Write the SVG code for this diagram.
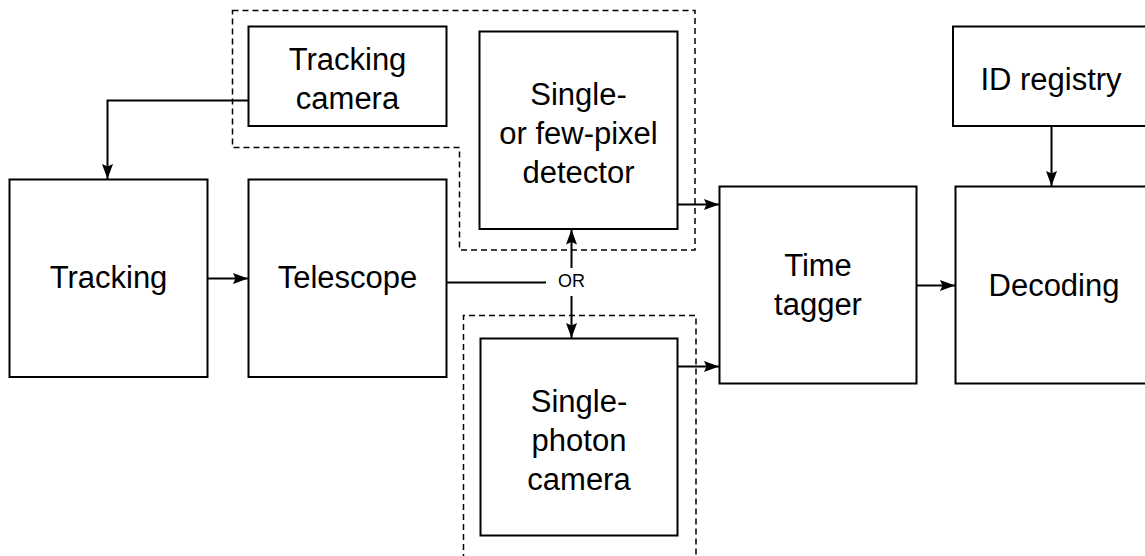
<svg xmlns="http://www.w3.org/2000/svg" width="1145" height="556" viewBox="0 0 1145 556">
<style>
.box{fill:#fff;stroke:#000;stroke-width:2}
.dash{fill:none;stroke:#000;stroke-width:1.5;stroke-dasharray:6 4}
.t{font-family:"Liberation Sans",Arial,sans-serif;font-size:31px;fill:#000;text-anchor:middle}
.or{font-family:"Liberation Sans",Arial,sans-serif;font-size:18px;fill:#000;text-anchor:middle}
.c{fill:none;stroke:#000;stroke-width:2}
</style>
<defs>
<marker id="ah" markerUnits="userSpaceOnUse" markerWidth="15" markerHeight="12" viewBox="0 0 15 12" refX="15" refY="6" orient="auto">
<path d="M0,0.5 L15,6 L0,11.5 L2.5,6 Z" fill="#000"/>
</marker>
</defs>
<rect width="1145" height="556" fill="#fff"/>
<g id="group-top">
<path class="dash" d="M232.5,10.5 H695 V250 H459.5 V147.5 H232.5 Z"/>
</g>
<g id="group-bottom">
<path class="dash" d="M463.5,560 V315.5 H696 V560"/>
</g>
<g id="connectors">
<path class="c" d="M248.5,100.5 H107.5 V179" marker-end="url(#ah)"/>
<path class="c" d="M207.5,278.5 H248" marker-end="url(#ah)"/>
<path class="c" d="M446.5,282.5 H546"/>
<path class="c" d="M571.5,268 V229.5" marker-end="url(#ah)"/>
<path class="c" d="M571.5,296 V338" marker-end="url(#ah)"/>
<path class="c" d="M677.5,204.5 H719" marker-end="url(#ah)"/>
<path class="c" d="M677.5,366.5 H719" marker-end="url(#ah)"/>
<path class="c" d="M916.5,285.5 H955" marker-end="url(#ah)"/>
<path class="c" d="M1051.5,126 V186" marker-end="url(#ah)"/>
<text class="or" x="571.5" y="287">OR</text>
</g>
<g id="tracking-camera">
<rect class="box" x="248.5" y="26.5" width="198" height="99.5"/>
<text class="t" x="347.5" y="70">Tracking</text>
<text class="t" x="347.5" y="109">camera</text>
</g>
<g id="detector">
<rect class="box" x="479.5" y="31.5" width="198" height="197.5"/>
<text class="t" x="578.5" y="105">Single-</text>
<text class="t" x="578.5" y="144">or few-pixel</text>
<text class="t" x="578.5" y="183">detector</text>
</g>
<g id="tracking">
<rect class="box" x="9.5" y="179.5" width="198" height="197.5"/>
<text class="t" x="108.5" y="288">Tracking</text>
</g>
<g id="telescope">
<rect class="box" x="248.5" y="179.5" width="198" height="197.5"/>
<text class="t" x="347.5" y="288">Telescope</text>
</g>
<g id="single-photon-camera">
<rect class="box" x="480.5" y="338.5" width="197" height="197"/>
<text class="t" x="579" y="412">Single-</text>
<text class="t" x="579" y="451">photon</text>
<text class="t" x="579" y="490">camera</text>
</g>
<g id="time-tagger">
<rect class="box" x="719.5" y="186.5" width="197" height="197"/>
<text class="t" x="818" y="276">Time</text>
<text class="t" x="818" y="315">tagger</text>
</g>
<g id="id-registry">
<rect class="box" x="953" y="26.5" width="200" height="99.5"/>
<text class="t" x="1051" y="90">ID registry</text>
</g>
<g id="decoding">
<rect class="box" x="955.5" y="186.5" width="200" height="197"/>
<text class="t" x="1054" y="296">Decoding</text>
</g>
</svg>
